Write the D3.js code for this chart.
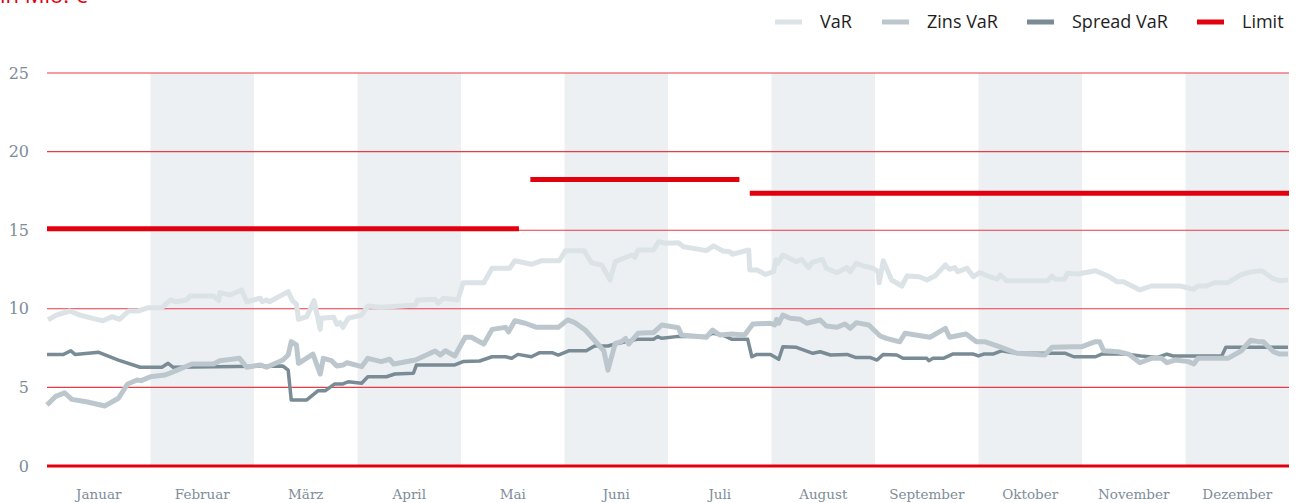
<!DOCTYPE html>
<html><head><meta charset="utf-8">
<script src="https://cdn.jsdelivr.net/npm/d3@7"></script>
<style>
html,body{margin:0;padding:0;background:#fff;}
svg{display:block;}
</style></head>
<body>
<svg id="chart" width="1302" height="503"></svg>
<script>
const title = "in Mio. €";
const months = ["Januar","Februar","März","April","Mai","Juni","Juli","August","September","Oktober","November","Dezember"];
const yTicks = [0,5,10,15,20,25];
const seriesNames = ["VaR","Zins VaR","Spread VaR","Limit"];

// positions in months since 1 January (0..12)
const varT = [0.01,0.09,0.22,0.32,0.48,0.54,0.63,0.70,0.79,0.88,0.98,1.11,1.19,1.25,1.35,1.38,1.61,1.66,1.67,1.77,1.88,1.93,2.06,2.08,2.12,2.15,2.33,2.37,2.41,2.43,2.51,2.58,2.64,2.65,2.77,2.80,2.83,2.86,2.91,3.04,3.10,3.23,3.56,3.58,3.75,3.78,3.83,3.97,4.02,4.22,4.30,4.47,4.52,4.68,4.78,4.95,5.01,5.19,5.26,5.36,5.44,5.49,5.65,5.68,5.71,5.86,5.91,5.97,6.10,6.15,6.37,6.44,6.53,6.60,6.62,6.78,6.79,6.86,6.94,7.02,7.04,7.06,7.11,7.24,7.29,7.36,7.39,7.49,7.53,7.63,7.73,7.76,7.82,7.89,7.98,8.03,8.04,8.08,8.16,8.26,8.31,8.43,8.50,8.58,8.68,8.72,8.77,8.80,8.89,8.95,9.01,9.11,9.18,9.21,9.27,9.67,9.71,9.74,9.83,9.86,9.96,10.13,10.25,10.34,10.40,10.56,10.67,10.95,11.08,11.12,11.20,11.28,11.41,11.53,11.64,11.74,11.84,11.91,11.99];
const varV = [9.29,9.6,9.86,9.6,9.33,9.24,9.5,9.33,9.86,9.86,10.07,10.07,10.56,10.45,10.56,10.81,10.81,10.52,11.03,10.88,11.2,10.45,10.67,10.45,10.56,10.45,11.09,10.52,10.3,9.33,9.5,10.52,8.69,9.4,9.46,9.01,9.12,8.82,9.4,9.6,10.18,10.1,10.24,10.56,10.6,10.35,10.67,10.56,11.66,11.66,12.58,12.58,13.06,12.83,13.06,13.06,13.7,13.7,12.93,12.79,11.83,13.0,13.42,13.28,13.74,13.74,14.27,14.17,14.2,13.95,13.7,14.0,13.68,13.63,13.47,13.74,12.47,12.47,12.19,12.36,13.1,12.9,13.42,13.0,13.15,12.62,12.93,13.15,12.58,12.3,12.62,12.36,12.9,12.72,12.58,12.36,11.66,13.06,11.83,11.45,12.09,12.04,11.83,12.09,12.79,12.51,12.62,12.36,12.58,12.04,12.3,12.04,11.88,12.15,11.79,11.79,12.09,11.88,11.88,12.26,12.21,12.42,12.09,11.72,11.72,11.2,11.45,11.45,11.24,11.45,11.45,11.66,11.66,12.15,12.36,12.42,11.94,11.79,11.83];

const zinsT = [0.00,0.08,0.17,0.24,0.38,0.56,0.69,0.78,0.87,0.91,1.00,1.14,1.20,1.40,1.61,1.67,1.86,1.93,2.06,2.12,2.28,2.33,2.36,2.41,2.43,2.57,2.64,2.67,2.75,2.80,2.86,2.90,3.04,3.10,3.23,3.31,3.35,3.56,3.75,3.80,3.85,3.94,4.04,4.10,4.22,4.30,4.43,4.46,4.52,4.62,4.73,4.94,5.03,5.10,5.20,5.33,5.38,5.42,5.49,5.55,5.59,5.62,5.71,5.81,5.86,5.94,6.10,6.13,6.37,6.43,6.50,6.62,6.74,6.82,6.99,7.03,7.05,7.07,7.11,7.18,7.28,7.34,7.47,7.53,7.63,7.71,7.76,7.82,7.94,8.05,8.11,8.24,8.29,8.53,8.68,8.72,8.88,8.98,9.06,9.22,9.37,9.64,9.71,9.92,10.00,10.13,10.17,10.21,10.35,10.45,10.56,10.67,10.77,10.82,10.90,11.03,11.08,11.12,11.41,11.54,11.63,11.70,11.75,11.85,11.91,11.99];
const zinsV = [3.88,4.41,4.66,4.24,4.09,3.82,4.31,5.22,5.47,5.43,5.68,5.79,5.94,6.49,6.49,6.7,6.85,6.28,6.43,6.28,6.74,7.06,7.91,7.7,6.53,7.12,5.85,6.85,6.7,6.36,6.43,6.57,6.32,6.85,6.64,6.79,6.49,6.74,7.32,7.06,7.33,7.0,8.19,8.19,7.76,8.69,8.82,8.54,9.24,9.08,8.82,8.82,9.29,9.12,8.65,7.7,7.33,6.1,7.8,7.91,8.12,7.76,8.44,8.48,8.48,8.97,8.8,8.33,8.19,8.65,8.33,8.4,8.33,9.03,9.08,8.97,9.33,9.08,9.6,9.4,9.33,9.08,9.29,8.91,8.82,9.03,8.76,9.12,8.97,8.27,8.12,7.9,8.44,8.19,8.76,8.19,8.4,7.91,7.91,7.55,7.17,7.06,7.55,7.59,7.59,7.91,7.91,7.33,7.27,7.12,6.57,6.85,6.85,6.57,6.74,6.64,6.49,6.85,6.85,7.33,8.0,7.91,7.91,7.27,7.12,7.12];

const spreadT = [0.00,0.16,0.23,0.27,0.50,0.69,0.90,1.11,1.17,1.22,2.28,2.33,2.36,2.51,2.62,2.69,2.78,2.86,2.91,3.04,3.10,3.28,3.36,3.54,3.57,3.94,4.02,4.18,4.30,4.43,4.49,4.55,4.68,4.76,4.88,4.94,5.04,5.21,5.29,5.42,5.49,5.70,5.86,5.90,5.94,6.08,6.37,6.43,6.53,6.62,6.77,6.81,6.86,6.99,7.07,7.11,7.24,7.40,7.47,7.57,7.73,7.81,7.95,8.02,8.08,8.21,8.27,8.50,8.52,8.56,8.66,8.75,8.95,9.00,9.05,9.14,9.22,9.37,9.84,9.92,10.13,10.19,10.41,10.57,10.73,10.82,10.88,11.35,11.39,11.99];
const spreadV = [7.1,7.1,7.33,7.1,7.23,6.74,6.28,6.28,6.53,6.28,6.36,6.1,4.2,4.2,4.79,4.79,5.22,5.22,5.36,5.26,5.68,5.68,5.85,5.9,6.43,6.43,6.64,6.68,6.95,6.95,6.85,7.1,6.95,7.21,7.21,7.06,7.33,7.33,7.63,7.63,7.76,8.06,8.06,8.23,8.12,8.23,8.23,8.44,8.33,8.06,8.06,6.95,7.1,7.1,6.79,7.59,7.55,7.17,7.27,7.06,7.1,6.91,6.91,6.74,7.1,7.06,6.85,6.85,6.7,6.85,6.85,7.12,7.12,7.0,7.12,7.12,7.33,7.17,7.17,6.95,6.95,7.12,7.12,7.0,6.91,7.12,7.0,7.0,7.55,7.55];

const limitStart = [0, 4.67, 6.79];
const limitEnd = [4.56, 6.69, 12];
const limitValue = [15.1, 18.22, 17.35];

const colors = {VaR:"#dce3e6", Zins:"#bcc7cd", Spread:"#798b94", Limit:"#e2000f"};

const svg = d3.select("#chart");
const x = d3.scaleLinear().domain([0,12]).range([47,1289]);
const y = d3.scaleLinear().domain([0,25]).range([466,73]);

// alternating month bands
svg.append("g").selectAll("rect").data(months.map((m,i)=>i).filter(i=>i%2===1)).join("rect")
  .attr("x", i=>x(i)).attr("width", i=>x(i+1)-x(i))
  .attr("y", y(25)).attr("height", y(0)-y(25))
  .attr("fill", "#edf0f3");

// gridlines
svg.append("g").selectAll("line").data(yTicks.filter(d=>d>0)).join("line")
  .attr("x1", x(0)).attr("x2", x(12))
  .attr("y1", d=>y(d)).attr("y2", d=>y(d))
  .attr("stroke", "#ea3a46").attr("stroke-width", 1.1);

// y labels
svg.append("g").selectAll("text").data(yTicks).join("text")
  .attr("x", 29).attr("y", d=>y(d)).attr("dy","0.35em")
  .attr("text-anchor","end")
  .attr("font-family","'DejaVu Serif', serif").attr("font-size", 16)
  .attr("fill","#7d8d98").text(d=>d);

// month labels
svg.append("g").selectAll("text").data(months).join("text")
  .attr("x", (d,i)=>x(i+0.5)).attr("y", 499)
  .attr("text-anchor","middle")
  .attr("font-family","'DejaVu Serif', serif").attr("font-size", 13.5)
  .attr("fill","#7d8d98").text(d=>d);

const line = d3.line().x(d=>x(d[0])).y(d=>y(d[1]));
function pts(T,V){ return T.map((t,i)=>[t,V[i]]); }

svg.append("path").attr("d", line(pts(varT,varV))).attr("fill","none")
  .attr("stroke", colors.VaR).attr("stroke-width",5).attr("stroke-linejoin","round");
svg.append("path").attr("d", line(pts(spreadT,spreadV))).attr("fill","none")
  .attr("stroke", colors.Spread).attr("stroke-width",3.5).attr("stroke-linejoin","round");
svg.append("path").attr("d", line(pts(zinsT,zinsV))).attr("fill","none")
  .attr("stroke", colors.Zins).attr("stroke-width",5).attr("stroke-linejoin","round");

// zero line
svg.append("line").attr("x1", x(0)).attr("x2", x(12)).attr("y1", y(0)).attr("y2", y(0))
  .attr("stroke", colors.Limit).attr("stroke-width", 3);

// limit segments
svg.append("g").selectAll("line").data(limitValue).join("line")
  .attr("x1",(d,i)=>x(limitStart[i])).attr("x2",(d,i)=>x(limitEnd[i]))
  .attr("y1", d=>y(d)).attr("y2", d=>y(d))
  .attr("stroke", colors.Limit).attr("stroke-width", 5);

// legend
const legX = [775, 882, 1027, 1197];
const legC = [colors.VaR, colors.Zins, colors.Spread, colors.Limit];
const lg = svg.append("g");
seriesNames.forEach((n,i)=>{
  lg.append("line").attr("x1", legX[i]).attr("x2", legX[i]+27).attr("y1",22).attr("y2",22)
    .attr("stroke", legC[i]).attr("stroke-width",5);
  lg.append("text").attr("x", legX[i]+45).attr("y", 22).attr("dy","0.35em")
    .attr("font-family","'Open Sans', sans-serif").attr("font-size",18)
    .attr("fill","#1e1e1e").text(n);
});

// title (partly above the view, as in the original)
svg.append("text").attr("x",0).attr("y",3)
  .attr("font-family","'Open Sans', sans-serif").attr("font-size",22)
  .attr("fill", colors.Limit).text(title);
</script>
</body></html>
